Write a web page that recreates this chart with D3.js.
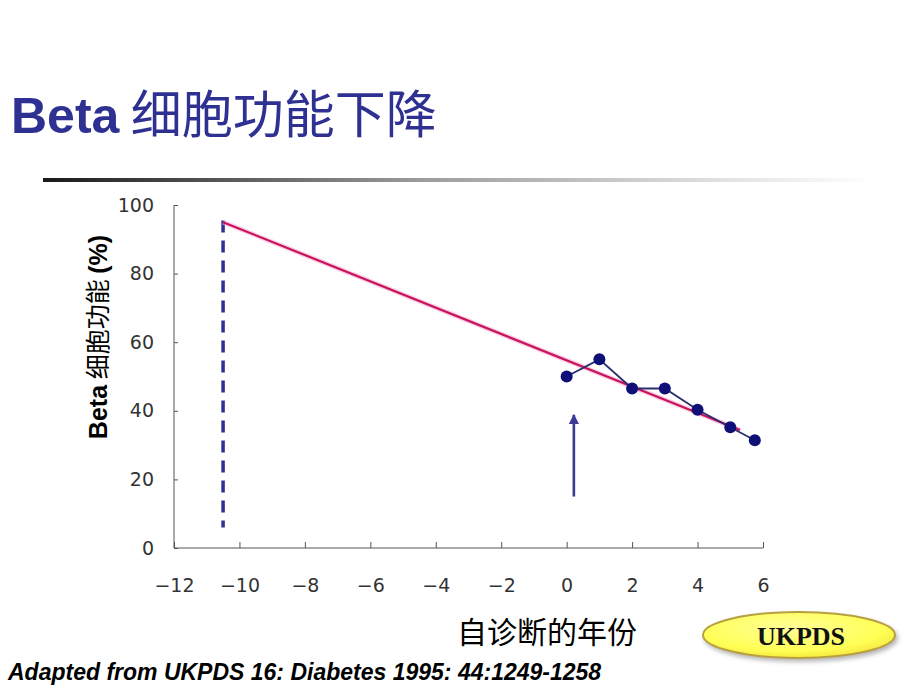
<!DOCTYPE html>
<html><head><meta charset="utf-8">
<script src="https://cdn.jsdelivr.net/npm/d3@7"></script>
<style>body{margin:0;background:#fff}svg{display:block}</style>
</head><body>
<svg id="chart" width="920" height="690"></svg>
<script>
// ---- data ----
const years = [0, 1, 2, 3, 4, 5, 5.75];
const betaFunction = [50, 55, 46.5, 46.5, 40.3, 35.2, 31.4];
const trendX = [-10.5, 5.3];
const trendY = [95, 34.4];
const diagnosisLineX = -10.5;
const diagnosisLineY = [95.5, 6];
const arrowX = 0.22;
const arrowY = [15, 38.8];
const xTicks = [-12, -10, -8, -6, -4, -2, 0, 2, 4, 6];
const yTicks = [0, 20, 40, 60, 80, 100];
const titleLatin = "Beta";
const titleCJK = "细胞功能下降";
const yLabelParts = ["Beta", " 细胞功能 ", "(%)"];
const xLabel = "自诊断的年份";
const badgeText = "UKPDS";
const footnote = "Adapted from UKPDS 16: Diabetes 1995: 44:1249-1258";

const svg = d3.select("#chart");
const defs = svg.append("defs");

// title
const title = svg.append("text").attr("x", 11).attr("y", 133)
  .attr("fill", "#2e3192");
title.append("tspan").text(titleLatin).style("font-size", "50px")
  .style("font-family", "'Liberation Sans', Arial, sans-serif").style("font-weight", "bold");
title.append("tspan").text(" " + titleCJK).style("font-size", "51px")
  .style("font-family", "'Noto Sans CJK SC', sans-serif").style("font-weight", "normal");

// gradient rule
const rg = defs.append("linearGradient").attr("id", "rule").attr("x1", "0").attr("x2", "1");
rg.append("stop").attr("offset", "0").attr("stop-color", "#1a1a1a");
rg.append("stop").attr("offset", "0.45").attr("stop-color", "#9a9a9a");
rg.append("stop").attr("offset", "0.8").attr("stop-color", "#dedede");
rg.append("stop").attr("offset", "1").attr("stop-color", "#ffffff");
svg.append("rect").attr("x", 43).attr("y", 178).attr("width", 830).attr("height", 4)
  .attr("fill", "url(#rule)");

// scales
const x = d3.scaleLinear().domain([-12, 6]).range([174, 763]);
const y = d3.scaleLinear().domain([0, 100]).range([548, 205]);

const axisColor = "#555";
const tickFont = "'DejaVu Sans', 'Liberation Sans', sans-serif";

// x axis
const gx = svg.append("g").attr("transform", `translate(0,${y(0)})`)
  .call(d3.axisBottom(x).tickValues(xTicks).tickSize(-6).tickPadding(31).tickFormat(d3.format("")));
gx.select(".domain").attr("stroke", axisColor).attr("d", `M${x(-12)},0H${x(6)}`);
gx.selectAll(".tick line").attr("stroke", axisColor);
gx.selectAll(".tick text").attr("fill", "#333").style("font-size", "19px").style("font-family", tickFont)
  .text(d => d < 0 ? "\u2212" + Math.abs(d) : d);

// y axis
const gy = svg.append("g").attr("transform", `translate(${x(-12)},0)`)
  .call(d3.axisLeft(y).tickValues(yTicks).tickSize(-4).tickPadding(20));
gy.select(".domain").attr("stroke", axisColor).attr("d", `M0,${y(0)}V${y(100)}`);
gy.selectAll(".tick line").attr("stroke", axisColor);
gy.selectAll(".tick text").attr("fill", "#333").style("font-size", "19px").style("font-family", tickFont);

// y label
const yl = svg.append("text").attr("transform", "translate(107,337) rotate(-90)")
  .attr("text-anchor", "middle").attr("fill", "#000").style("font-size", "25px");
yl.append("tspan").text(yLabelParts[0]).style("font-family", "'Liberation Sans', Arial, sans-serif").style("font-weight", "bold");
yl.append("tspan").text(yLabelParts[1]).style("font-family", "'Noto Sans CJK SC', sans-serif");
yl.append("tspan").text(yLabelParts[2]).style("font-family", "'Liberation Sans', Arial, sans-serif").style("font-weight", "bold");

// x label
svg.append("text").attr("x", 547).attr("y", 643).attr("text-anchor", "middle")
  .attr("fill", "#000").style("font-size", "30px").style("font-family", "'Noto Sans CJK SC', sans-serif")
  .text(xLabel);

// dashed diagnosis line
svg.append("line").attr("x1", x(diagnosisLineX)).attr("x2", x(diagnosisLineX))
  .attr("y1", y(diagnosisLineY[0])).attr("y2", y(diagnosisLineY[1]))
  .attr("stroke", "#2e3192").attr("stroke-width", 3.5).attr("stroke-dasharray", "12,8");

// trend line
const trendData = trendX.map((d, i) => [d, trendY[i]]);
const line = d3.line().x(d => x(d[0])).y(d => y(d[1]));
svg.append("path").datum(trendData).attr("d", line).attr("fill", "none")
  .attr("stroke", "#f7b6d2").attr("stroke-width", 5).attr("opacity", 0.6);
svg.append("path").datum(trendData).attr("d", line).attr("fill", "none")
  .attr("stroke", "#c8145e").attr("stroke-width", 2.2);

// observed series
const pts = years.map((d, i) => [d, betaFunction[i]]);
svg.append("path").datum(pts).attr("d", line).attr("fill", "none")
  .attr("stroke", "#2a2f6e").attr("stroke-width", 1.8);
svg.selectAll("circle.pt").data(pts).join("circle").attr("class", "pt")
  .attr("cx", d => x(d[0])).attr("cy", d => y(d[1])).attr("r", 6)
  .attr("fill", "#0f0f78");

// arrow
defs.append("marker").attr("id", "ah").attr("viewBox", "0 0 10 10").attr("refX", 9).attr("refY", 5)
  .attr("markerWidth", 4).attr("markerHeight", 5).attr("markerUnits", "strokeWidth").attr("orient", "auto")
  .append("path").attr("d", "M0,0L10,5L0,10Z").attr("fill", "#3b3b95");
svg.append("line").attr("x1", x(arrowX)).attr("x2", x(arrowX))
  .attr("y1", y(arrowY[0])).attr("y2", y(arrowY[1]))
  .attr("stroke", "#3b3b95").attr("stroke-width", 2.6).attr("marker-end", "url(#ah)");

// UKPDS badge
const bg = defs.append("radialGradient").attr("id", "badge").attr("cx", "0.45").attr("cy", "0.35").attr("r", "0.7");
bg.append("stop").attr("offset", "0").attr("stop-color", "#ffff99");
bg.append("stop").attr("offset", "0.7").attr("stop-color", "#ffff55");
bg.append("stop").attr("offset", "1").attr("stop-color", "#f2e23a");
const flt = defs.append("filter").attr("id", "sh").attr("x", "-20%").attr("y", "-30%").attr("width", "140%").attr("height", "170%");
flt.append("feDropShadow").attr("dx", 2).attr("dy", 3).attr("stdDeviation", 2).attr("flood-color", "#888").attr("flood-opacity", 0.6);
svg.append("ellipse").attr("cx", 799).attr("cy", 635).attr("rx", 96).attr("ry", 23)
  .attr("fill", "url(#badge)").attr("stroke", "#b8a040").attr("stroke-width", 2).attr("filter", "url(#sh)");
svg.append("text").attr("x", 801).attr("y", 645).attr("text-anchor", "middle")
  .attr("fill", "#111").style("font-size", "26px").style("font-weight", "bold")
  .style("font-family", "'Liberation Serif', 'Times New Roman', serif").text(badgeText);

// footnote
svg.append("text").attr("x", 8).attr("y", 680).attr("fill", "#000")
  .style("font-size", "23px").style("font-weight", "bold").style("font-style", "italic")
  .style("font-family", "'Liberation Sans', Arial, sans-serif").text(footnote);
</script>
</body></html>
